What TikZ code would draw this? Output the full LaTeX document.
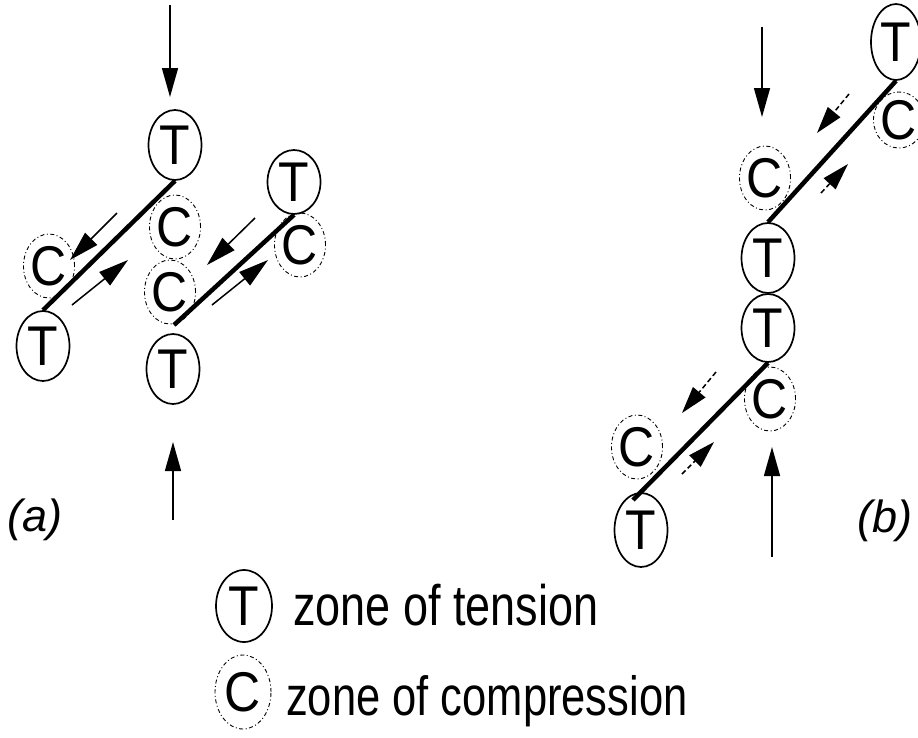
\documentclass[tikz,border=0pt]{standalone}
\usepackage{fontspec}
\setmainfont{Liberation Sans}
\usetikzlibrary{shapes.geometric,arrows.meta}
\newcommand\vstretch[2]{\scalebox{1}[#1]{#2}}
\begin{document}
\begin{tikzpicture}[x=1pt,y=-1pt,
  tz/.style={ellipse,draw,line width=1.7pt,inner sep=0pt,minimum width=53pt,minimum height=70pt,font=\fontsize{50}{50}\selectfont},
  cz/.style={ellipse,draw,line width=0.9pt,dash pattern=on 4pt off 2.5pt on 1pt off 2.5pt,inner sep=0pt,minimum width=45pt,minimum height=64pt,font=\fontsize{50}{50}\selectfont},
  bar/.style={line width=4.5pt},
  force/.style={line width=1.5pt,-{Triangle[length=30pt,width=17pt]}},
  forceb/.style={line width=1.5pt,dash pattern=on 5pt off 3pt,-{Triangle[length=27pt,width=16pt]}},
  push/.style={line width=1.5pt,-{Triangle[length=29pt,width=16pt]}},
  lbl/.style={font=\fontsize{45}{50}\selectfont\itshape,inner sep=0pt},
  legend/.style={font=\fontsize{44}{50}\selectfont,inner sep=0pt,anchor=base west},
]
\useasboundingbox (0,0) rectangle (918,737);
% ---------------- panel (a) ----------------
\node[tz] (ta1) at (175,145) {\vstretch{1.12}{T}};
\node[tz] (ta2) at (43,346) {\vstretch{1.12}{T}};
\node[tz,minimum height=64pt] (ta3) at (294,182) {\vstretch{1.12}{T}};
\node[tz] (ta4) at (173,369) {\vstretch{1.12}{T}};
\node[cz] (ca1) at (49,266) {\vstretch{1.12}{C}};
\node[cz] (ca2) at (175,227) {\vstretch{1.12}{C}};
\node[cz] (ca3) at (170,292) {\vstretch{1.12}{C}};
\node[cz] (ca4) at (300,245) {\vstretch{1.12}{C}};
\coordinate (a2end) at (174,325);
\draw[bar] (ta1.south) -- (ta2.north);
\draw[bar] (ta3.south) -- (a2end);
% force arrows
\coordinate (fa1s) at (117,213); \coordinate (fa1e) at (70,260);
\coordinate (fa2s) at (72,305);  \coordinate (fa2e) at (128,260);
\coordinate (fa3s) at (255,218); \coordinate (fa3e) at (207,265);
\coordinate (fa4s) at (212,305); \coordinate (fa4e) at (268,260);
\draw[force] (fa1s) -- (fa1e);
\draw[force] (fa2s) -- (fa2e);
\draw[force] (fa3s) -- (fa3e);
\draw[force] (fa4s) -- (fa4e);
% load arrows
\coordinate (pa1s) at (170,5);   \coordinate (pa1e) at (170,97);
\coordinate (pa2s) at (173,520); \coordinate (pa2e) at (173,442);
\draw[push] (pa1s) -- (pa1e);
\draw[push] (pa2s) -- (pa2e);
\node[lbl] (la) at (35,520) {(a)};
% ---------------- panel (b) ----------------
\node[tz,minimum width=50pt,minimum height=76pt] (tb1) at (896,42) {\vstretch{1.12}{T}};
\node[cz,minimum height=56pt] (cb1) at (899,120) {\vstretch{1.12}{C}};
\node[cz] (cb2) at (765,178) {\vstretch{1.12}{C}};
\node[tz] (tb2) at (768,258) {\vstretch{1.12}{T}};
\node[tz,minimum height=68pt] (tb3) at (768,328) {\vstretch{1.12}{T}};
\node[cz] (cb3) at (770,399) {\vstretch{1.12}{C}};
\node[cz] (cb4) at (637,447) {\vstretch{1.12}{C}};
\node[tz,minimum height=74pt] (tb4) at (641,530) {\vstretch{1.12}{T}};
\coordinate (b2end) at (633,500);
\draw[bar] (tb1.south) -- (tb2.north);
\draw[bar] (tb3.south) -- (b2end);
\coordinate (fb1s) at (849,94);  \coordinate (fb1e) at (817,133);
\coordinate (fb2s) at (821,193); \coordinate (fb2e) at (848,164);
\coordinate (fb3s) at (716,372); \coordinate (fb3e) at (682,413);
\coordinate (fb4s) at (682,474); \coordinate (fb4e) at (714,442);
\draw[forceb] (fb1s) -- (fb1e);
\draw[forceb] (fb2s) -- (fb2e);
\draw[forceb] (fb3s) -- (fb3e);
\draw[forceb] (fb4s) -- (fb4e);
\coordinate (pb1s) at (762,27);  \coordinate (pb1e) at (762,117);
\coordinate (pb2s) at (772,557); \coordinate (pb2e) at (772,447);
\draw[push] (pb1s) -- (pb1e);
\draw[push] (pb2s) -- (pb2e);
\node[lbl] (lb) at (885,521) {(b)};
% ---------------- legend ----------------
\node[tz,minimum width=56pt,minimum height=72pt] (lt) at (244,606) {\vstretch{1.12}{T}};
\node[legend] (ltt) at (293,625) {\vstretch{1.27}{\fontsize{45}{50}\selectfont zone of tension}};
\node[cz,minimum width=56pt,minimum height=74pt] (lc) at (243,692) {\vstretch{1.12}{C}};
\node[legend] (lct) at (286,715) {\vstretch{1.27}{\fontsize{43.5}{50}\selectfont zone of compression}};
\end{tikzpicture}
\end{document}
